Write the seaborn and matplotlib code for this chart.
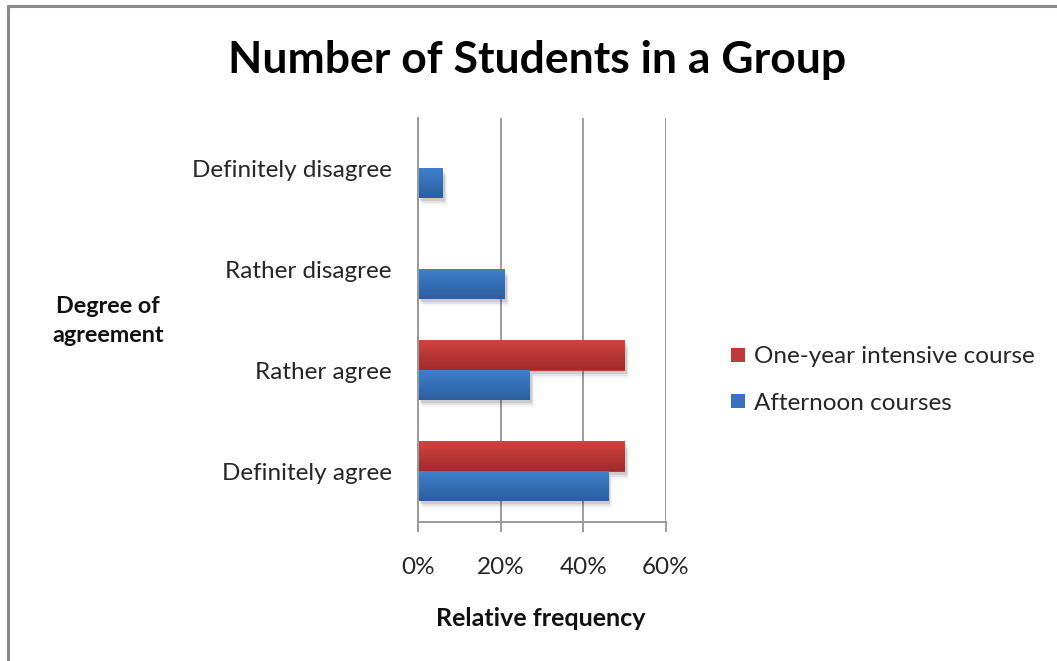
import numpy as np
import pandas as pd
import matplotlib
matplotlib.use("Agg")
import matplotlib.pyplot as plt
import matplotlib.transforms as mtransforms
from matplotlib.patches import Rectangle
from matplotlib.lines import Line2D
import seaborn as sns

# Survey answers (relative frequency, %)
categories = ["Definitely disagree", "Rather disagree", "Rather agree", "Definitely agree"]
intensive = [0, 0, 50, 50]
afternoon = [6, 21, 27, 46]
series_names = ["One-year intensive course", "Afternoon courses"]
x_ticks = [0, 20, 40, 60]
x_tick_labels = ["0%", "20%", "40%", "60%"]

df = pd.DataFrame({
    "category": categories * 2,
    "course": [series_names[0]] * 4 + [series_names[1]] * 4,
    "value": intensive + afternoon,
})

sns.set_theme(style="white")
plt.rcParams["font.family"] = ["Lato", "DejaVu Sans"]

colors = {series_names[0]: "#C0393A", series_names[1]: "#3872BD"}
grad = {
    series_names[0]: ("#D0433F", "#A02C2B"),
    series_names[1]: ("#3E80CC", "#2D5E9E"),
}

fig = plt.figure(figsize=(10.57, 6.61), dpi=100)
ax = fig.add_axes([418 / 1057, (661 - 522) / 661, (666 - 418) / 1057, (522 - 118) / 661])

sns.barplot(data=df, y="category", x="value", hue="course", order=categories,
            hue_order=series_names, palette=colors, orient="h", width=0.575,
            ax=ax, legend=False, saturation=1, linewidth=0)

ax.set_xlim(0, 60)
ax.set_ylim(3.5, -0.5)

# Vertical colour gradient and soft drop shadow for every bar
def to_rgb(c):
    return np.array(matplotlib.colors.to_rgb(c))

patches = list(ax.patches)
for i, p in enumerate(patches):
    name = series_names[i // len(categories)]
    w = p.get_width()
    if w <= 0:
        p.set_visible(False)
        continue
    x0, y0, h = p.get_x(), p.get_y(), p.get_height()
    for dx, dy, a in [(2, -3, 0.10), (3, -5, 0.07), (4, -7, 0.04)]:
        off = mtransforms.offset_copy(ax.transData, fig=fig, x=dx, y=dy, units="dots")
        ax.add_patch(Rectangle((x0, y0), w, h, transform=off, facecolor="black",
                               alpha=a, linewidth=0, zorder=1.5))
    top, bot = to_rgb(grad[name][0]), to_rgb(grad[name][1])
    t = np.linspace(0, 1, 64)[:, None]
    img = (top[None, :] * (1 - t) + bot[None, :] * t)[:, None, :]
    ax.imshow(img, extent=(x0, x0 + w, y0 + h, y0), origin="upper",
              aspect="auto", zorder=2.5, interpolation="bilinear")
    p.set_zorder(2)

ax.set_xlim(0, 60)
ax.set_ylim(3.5, -0.5)

# Axis styling
fs = 17.5
ax.set_xticks(x_ticks)
ax.set_xticklabels(x_tick_labels, fontsize=fs, color="#262626")
ax.tick_params(axis="x", length=7, width=1.2, color="#8c8c8c", pad=18, bottom=True)
ax.tick_params(axis="y", length=0, labelsize=fs, labelcolor="#262626", pad=19)
ax.grid(axis="x", color="#8c8c8c", linewidth=1.2, zorder=0)
ax.set_axisbelow(True)
for side in ["top", "right"]:
    ax.spines[side].set_visible(False)
for side in ["left", "bottom"]:
    ax.spines[side].set_color("#9a9a9a")
    ax.spines[side].set_linewidth(1.4)
ax.spines["left"].set_bounds(3.5 + 0.08, -0.5)

ax.set_xlabel("")
ax.set_ylabel("")

fig.text(541 / 1057, 1 - 618 / 661, "Relative frequency", ha="center", va="center",
         fontsize=18, fontweight="bold", color="#111111")
fig.text(108 / 1057, 1 - 321 / 661, "Degree of\nagreement", ha="center", va="center",
         fontsize=16.8, fontweight="bold", color="#111111", linespacing=1.45)
fig.text(537 / 1057, 1 - 60 / 661, "Number of Students in a Group", ha="center",
         va="center", fontsize=32, fontweight="bold", color="#000000")

handles = [Line2D([], [], marker="s", linestyle="none", markersize=9.5,
                  markerfacecolor=colors[n], markeredgewidth=0) for n in series_names]
fig.legend(handles, series_names, loc="center left",
           bbox_to_anchor=(708 / 1057, 1 - 380 / 661), frameon=False,
           fontsize=fs, handlelength=0.7, handletextpad=0.3, labelspacing=1.05,
           labelcolor="#262626")

# Outer chart frame (top and left edges)
fig.add_artist(Line2D([8 / 1057, 1.0], [1 - 6 / 661, 1 - 6 / 661],
                      transform=fig.transFigure, color="#8a8a8a", linewidth=2.2))
fig.add_artist(Line2D([8 / 1057, 8 / 1057], [0.0, 1 - 6 / 661],
                      transform=fig.transFigure, color="#8a8a8a", linewidth=2.2))

fig.savefig("out.png", dpi=100, facecolor="white")
